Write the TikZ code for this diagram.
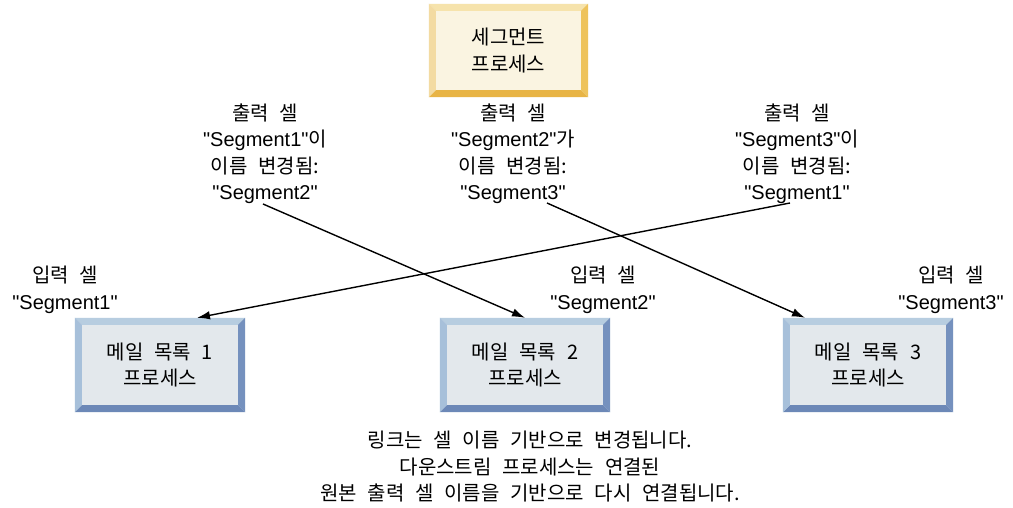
\documentclass[tikz,border=0pt]{standalone}
\usepackage{fontspec}
\setmainfont{Liberation Sans}[Ligatures=TeXOff]
\newfontfamily\kr{Noto Sans CJK KR}[WordSpace=2.4]
\usetikzlibrary{arrows.meta,calc}
\definecolor{segface}{HTML}{FAF4E1}
\definecolor{segtop}{HTML}{F6E3AC}
\definecolor{segleft}{HTML}{F3DBA2}
\definecolor{segright}{HTML}{EEC35C}
\definecolor{segbot}{HTML}{E8B445}
\definecolor{mface}{HTML}{E3E8EC}
\definecolor{mtop}{HTML}{B7CDE0}
\definecolor{mleft}{HTML}{A7C0DA}
\definecolor{mright}{HTML}{7591BE}
\definecolor{mbot}{HTML}{6C88B7}
\newcommand\bevelbox[6]{%
\fill[#2] (#1.north west) -- (#1.north east) -- ([shift={(-#6,-#6)}]#1.north east) -- ([shift={(#6,-#6)}]#1.north west) -- cycle;
\fill[#5] (#1.south west) -- (#1.south east) -- ([shift={(-#6,#6)}]#1.south east) -- ([shift={(#6,#6)}]#1.south west) -- cycle;
\fill[#3] (#1.north west) -- (#1.south west) -- ([shift={(#6,#6)}]#1.south west) -- ([shift={(#6,-#6)}]#1.north west) -- cycle;
\fill[#4] (#1.north east) -- (#1.south east) -- ([shift={(-#6,#6)}]#1.south east) -- ([shift={(-#6,-#6)}]#1.north east) -- cycle;}
\begin{document}
\begin{tikzpicture}[x=1pt,y=1pt,
  txt/.style={align=center, font=\fontsize{20}{26.5}\selectfont, inner sep=0pt},
  procbox/.style={txt, fill=#1, minimum width=170pt, minimum height=94pt},
  link/.style={line width=1.4pt, -{Latex[length=13pt,width=8.5pt]}}]
\useasboundingbox (0,0) rectangle (1013,508);
\fill[white] (0,0) rectangle (1013,508);
% boxes
\node[procbox=segface, minimum width=159pt, minimum height=93pt] (seg) at (508.5,457.5) {\kr 세그먼트\\\kr 프로세스};
\bevelbox{seg}{segtop}{segleft}{segright}{segbot}{7}
\node[procbox=mface] (b1) at (160,143) {\kr 메일 목록 1\\\kr 프로세스};
\bevelbox{b1}{mtop}{mleft}{mright}{mbot}{7}
\node[procbox=mface] (b2) at (525,143) {\kr 메일 목록 2\\\kr 프로세스};
\bevelbox{b2}{mtop}{mleft}{mright}{mbot}{7}
\node[procbox=mface] (b3) at (868,143) {\kr 메일 목록 3\\\kr 프로세스};
\bevelbox{b3}{mtop}{mleft}{mright}{mbot}{7}
% labels
\node[txt] (out1) at (265,354) {{\kr 출력 셀}\\"Segment1"{\kr 이}\\{\kr 이름 변경됨:}\\"Segment2"};
\node[txt] (out2) at (513,354) {{\kr 출력 셀}\\"Segment2"{\kr 가}\\{\kr 이름 변경됨:}\\"Segment3"};
\node[txt] (out3) at (797,354) {{\kr 출력 셀}\\"Segment3"{\kr 이}\\{\kr 이름 변경됨:}\\"Segment1"};
\node[txt] (in1) at (65,218) {{\kr 입력 셀}\\"Segment1"};
\node[txt] (in2) at (603,218) {{\kr 입력 셀}\\"Segment2"};
\node[txt] (in3) at (951,218) {{\kr 입력 셀}\\"Segment3"};
\node[txt] (note) at (530,41) {{\kr 링크는 셀 이름 기반으로 변경됩니다.}\\{\kr 다운스트림 프로세스는 연결된}\\{\kr 원본 출력 셀 이름을 기반으로 다시 연결됩니다.}};
% connectors
\coordinate (s1) at (263,304);
\coordinate (s2) at (547,305);
\coordinate (s3) at (790,305);
\draw[link] (s1) -- (b2.north);
\draw[link] (s2) -- ([xshift=-63pt]b3.north);
\draw[link] (s3) -- ([xshift=37pt]b1.north);
\end{tikzpicture}
\end{document}
